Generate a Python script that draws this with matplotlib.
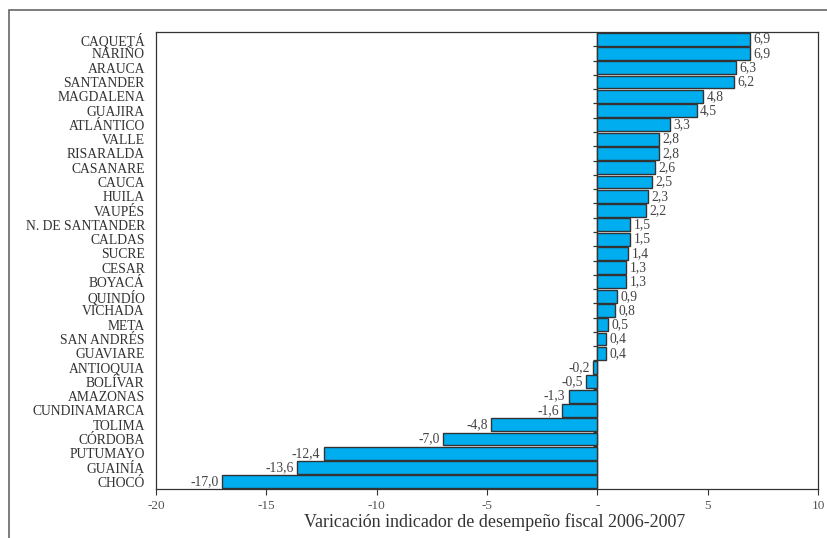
import matplotlib.pyplot as plt
from matplotlib.patches import Rectangle

departamentos = ["CAQUETÁ", "NARIÑO", "ARAUCA", "SANTANDER", "MAGDALENA", "GUAJIRA",
                 "ATLÁNTICO", "VALLE", "RISARALDA", "CASANARE", "CAUCA", "HUILA",
                 "VAUPÉS", "N. DE SANTANDER", "CALDAS", "SUCRE", "CESAR", "BOYACÁ",
                 "QUINDÍO", "VICHADA", "META", "SAN ANDRÉS", "GUAVIARE", "ANTIOQUIA",
                 "BOLÍVAR", "AMAZONAS", "CUNDINAMARCA", "TOLIMA", "CÓRDOBA", "PUTUMAYO",
                 "GUAINÍA", "CHOCÓ"]
variacion = [6.9, 6.9, 6.3, 6.2, 4.8, 4.5, 3.3, 2.8, 2.8, 2.6, 2.5, 2.3, 2.2, 1.5, 1.5,
             1.4, 1.3, 1.3, 0.9, 0.8, 0.5, 0.4, 0.4, -0.2, -0.5, -1.3, -1.6, -4.8, -7.0,
             -12.4, -13.6, -17.0]
xticks = [-20, -15, -10, -5, 0, 5, 10]
xtick_labels = ["-20", "-15", "-10", "-5", "-", "5", "10"]

plt.rcParams['font.family'] = ['Liberation Serif', 'DejaVu Serif']

fig = plt.figure(figsize=(8.28, 5.38), dpi=100)
# marco exterior (solo se ve arriba y a la izquierda)
fig.patches.append(Rectangle((9 / 828, -0.1), 1.2, 1.1 - 10 / 538, transform=fig.transFigure,
                             fill=False, edgecolor="#666666", linewidth=1.2))
ax = fig.add_axes([156 / 828, 1 - 489 / 538, (818 - 156) / 828, (489 - 32) / 538])

n = len(departamentos)
pos = list(range(n))[::-1]
ax.barh(pos, variacion, height=0.9, color="#00aeef", edgecolor="#333333", linewidth=1.0,
        zorder=3)

for y, v in zip(pos, variacion):
    txt = f"{v:.1f}".replace(".", ",")
    if v >= 0:
        ax.text(v + 0.15, y, txt, ha="left", va="center", fontsize=9.8, color="#444444")
    else:
        ax.text(v - 0.15, y, txt, ha="right", va="center", fontsize=9.8, color="#444444")

ax.set_xlim(-20, 10)
ax.set_ylim(-0.5, n - 0.5)
ax.set_xticks(xticks)
ax.set_xticklabels(xtick_labels, fontsize=9.5, color="#555555")
ax.set_yticks(pos)
ax.set_yticklabels(departamentos, fontsize=9.8, color="#333333")
ax.tick_params(axis="y", length=0, pad=8)
ax.tick_params(axis="x", length=4, direction="out", color="#333333", pad=4)
for s in ax.spines.values():
    s.set_color("#333333")
    s.set_linewidth(0.9)

# eje de categorías en el cero (línea y marcas entre categorías, detrás de las barras)
ax.axvline(0, color="#333333", linewidth=1.0, zorder=2)
ax.hlines([p + 0.5 for p in range(n - 1)], -0.18, 0, color="#333333", linewidth=0.9, zorder=2)

ax.set_xlabel("Varicación indicador de desempeño fiscal 2006-2007", fontsize=13,
              color="#333333", labelpad=1)
ax.xaxis.label.set_x(0.512)

fig.savefig("out.png", dpi=100)
